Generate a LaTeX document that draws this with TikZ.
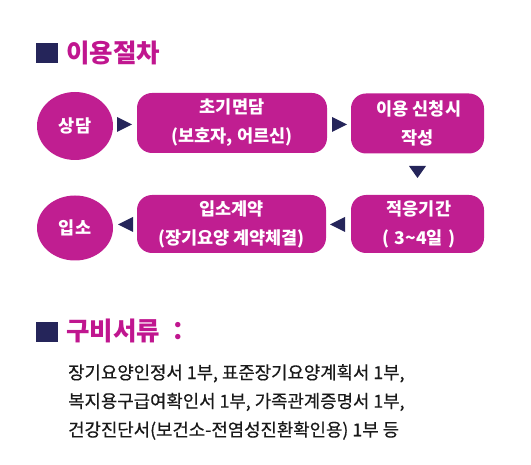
\documentclass[tikz,border=0pt]{standalone}
\usepackage{fontspec}
\usetikzlibrary{shapes.geometric}
\newfontfamily\kr{Noto Sans CJK KR}
\newfontfamily\krm[FakeBold=0.5]{Noto Sans CJK KR}
\definecolor{mag}{HTML}{C01E91}
\definecolor{navy}{HTML}{25255A}
\definecolor{ttl}{HTML}{C0168F}
\begin{document}
\begin{tikzpicture}[x=1pt,y=-1pt,
  stepbox/.style={fill=mag,rounded corners=15pt,inner sep=0pt,text=white,align=center,
    font=\kr\bfseries\fontsize{17.5}{29}\selectfont},
  roundnode/.style={ellipse,fill=mag,inner sep=0pt,text=white,
    font=\kr\bfseries\fontsize{17.5}{20}\selectfont},
  tip/.style={fill=navy},
  headsq/.style={fill=navy},
  head/.style={anchor=west,inner sep=0pt,text=ttl,font=\kr\bfseries\fontsize{25.5}{30}\selectfont},
  body/.style={anchor=west,inner sep=0pt,text=black!90,align=left,font=\krm\fontsize{17.8}{28.6}\selectfont}]
\useasboundingbox (0,0) rectangle (531,465);
% title 1
\fill[headsq] (36,43) rectangle (58,63);
\node[head] (t1) at (66,53) {이용절차};
% row 1
\node[roundnode,minimum width=76pt,minimum height=68pt] (s1) at (75,126) {상담};
\node[stepbox,minimum width=190pt,minimum height=60pt] (s2) at (232,123) {초기면담\\(보호자, 어르신)};
\node[stepbox,minimum width=133pt,minimum height=60pt] (s3) at (417.5,123.5) {\,이용 신청시\\작성};
% row 2
\node[stepbox,minimum width=133pt,minimum height=58pt] (s4) at (417.5,224) {\,적응기간\\\,(\,\,3\textasciitilde4일\,\,)};
\node[stepbox,minimum width=189pt,minimum height=58pt] (s5) at (231.5,224) {입소계약\\(장기요양 계약체결)};
\node[roundnode,minimum width=76pt,minimum height=65pt] (s6) at (75,228) {입소};
% arrows
\fill[tip] (117,117) -- (117,132) -- (132,124.5) -- cycle;
\fill[tip] (332,117) -- (332,132) -- (347,124.5) -- cycle;
\fill[tip] (409,166) -- (426,166) -- (417.5,178) -- cycle;
\fill[tip] (345,217) -- (345,232) -- (330,224.5) -- cycle;
\fill[tip] (133,217) -- (133,232) -- (118,224.5) -- cycle;
% title 2
\fill[headsq] (36,322) rectangle (58,342);
\node[head] (t2) at (66,331) {구비서류 ：};
\node[body] (docs) at (68,402) {장기요양인정서 1부, 표준장기요양계획서 1부,\\복지용구급여확인서 1부, 가족관계증명서 1부,\\건강진단서(보건소-전염성진환확인용) 1부 등};
\end{tikzpicture}
\end{document}
